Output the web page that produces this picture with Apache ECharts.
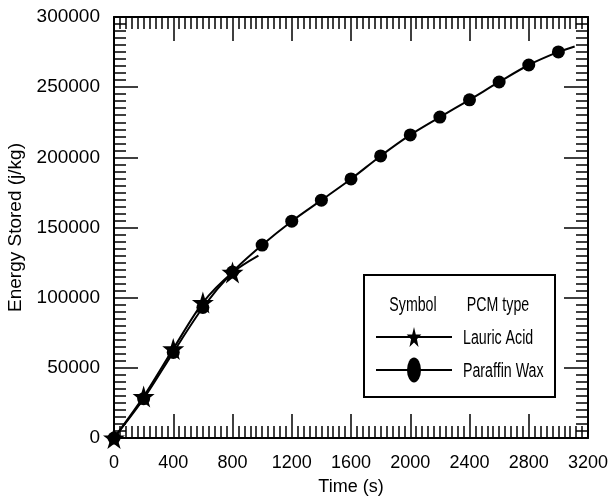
<!DOCTYPE html>
<html>
<head>
<meta charset="utf-8">
<script src="https://cdn.jsdelivr.net/npm/echarts@6/dist/echarts.min.js"></script>
<style>
html, body { margin: 0; padding: 0; background: #fff; }
#main { width: 611px; height: 497px; }
</style>
</head>
<body>
<div id="main"></div>
<script>
var myChart = echarts.init(document.getElementById("main"));

// data
var timesLauric = [0, 200, 400, 600, 800];
var lauricAcid = [0, 29500, 63500, 96500, 118000];
var lauricEnd = [975, 130000];

var timesParaffin = [0, 200, 400, 600, 800, 1000, 1200, 1400, 1600, 1800, 2000, 2200, 2400, 2600, 2800, 3000];
var paraffinWax = [0, 28000, 61000, 93000, 118300, 137500, 154500, 169500, 184600, 201000, 216000, 228700, 241000, 253700, 265800, 275100];
var paraffinEnd = [3110, 279000];

var legendHead = ['Symbol', 'PCM type'];
var legendNames = ['Lauric Acid', 'Paraffin Wax'];

var starPath = 'path://M50,0 L61,35 L98,35 L68,57 L79,91 L50,70 L21,91 L32,57 L2,35 L39,35 Z';
var font = "'Liberation Sans', Arial, sans-serif";

function pairs(xs, ys, end) {
	var out = xs.map(function(x, i) { return [x, ys[i]]; });
	out.push({ value: end, symbol: 'none' });
	return out;
}

// star outline for the legend box
function starPoints(R) {
	var pts = [];
	for (var k = 0; k < 10; k++) {
		var a = -Math.PI / 2 + k * Math.PI / 5;
		var r = k % 2 ? R * 0.4 : R;
		pts.push([r * Math.cos(a), r * Math.sin(a)]);
	}
	return pts;
}

var tickCommon = {
	axisLine: { show: true, onZero: false, lineStyle: { color: '#000', width: 2 } },
	axisTick: { show: true, inside: true, length: 24, lineStyle: { color: '#000', width: 1.5 } },
	minorTick: { show: true, splitNumber: 10, length: 12, lineStyle: { color: '#000', width: 1.5 } },
	splitLine: { show: false }
};

function xAx(extra) {
	return Object.assign({ type: 'value', min: 0, max: 3200, interval: 400 },
		JSON.parse(JSON.stringify(tickCommon)), extra);
}
function yAx(extra) {
	return Object.assign({ type: 'value', min: 0, max: 300000, interval: 50000 },
		JSON.parse(JSON.stringify(tickCommon)), extra);
}

var plain = function(v) { return String(v); };
var txt = { fill: '#000', font: '20px ' + font, textVerticalAlign: 'middle' };
var sq = 0.71; // legend text is narrow in the original

option = {
	backgroundColor: '#fff',
	animation: false,
	grid: { left: 114, right: 23, top: 17, bottom: 59, containLabel: false, outerBoundsMode: 'none' },
	xAxis: [
		xAx({
			position: 'bottom',
			name: 'Time (s)', nameLocation: 'middle', nameGap: 40,
			nameTextStyle: { color: '#000', fontSize: 18, fontFamily: font },
			axisLabel: { color: '#000', fontSize: 18, fontFamily: font, margin: 16, formatter: plain }
		}),
		xAx({ position: 'top', axisLabel: { show: false } })
	],
	yAxis: [
		yAx({
			position: 'left',
			name: 'Energy Stored (j/kg)', nameLocation: 'middle', nameGap: 82,
			nameTextStyle: { color: '#000', fontSize: 19, fontFamily: font },
			axisLabel: { color: '#000', fontSize: 19, fontFamily: font, margin: 14, formatter: plain }
		}),
		yAx({ position: 'right', axisLabel: { show: false } })
	],
	graphic: [
		{ type: 'rect', shape: { x: 364, y: 275, width: 191, height: 122 },
			style: { fill: '#fff', stroke: '#000', lineWidth: 2 }, z: 10 },
		{ type: 'text', x: 413, y: 305, scaleX: sq, z: 11,
			style: Object.assign({ text: legendHead[0], textAlign: 'center' }, txt) },
		{ type: 'text', x: 498, y: 305, scaleX: sq, z: 11,
			style: Object.assign({ text: legendHead[1], textAlign: 'center' }, txt) },
		{ type: 'line', shape: { x1: 376, y1: 337, x2: 452, y2: 337 },
			style: { stroke: '#000', lineWidth: 2 }, z: 11 },
		{ type: 'polygon', x: 414, y: 338, scaleX: 0.7, shape: { points: starPoints(11) },
			style: { fill: '#000' }, z: 12 },
		{ type: 'text', x: 463, y: 338, scaleX: sq, z: 11,
			style: Object.assign({ text: legendNames[0], textAlign: 'left' }, txt) },
		{ type: 'line', shape: { x1: 376, y1: 370, x2: 452, y2: 370 },
			style: { stroke: '#000', lineWidth: 2 }, z: 11 },
		{ type: 'circle', x: 414, y: 370, scaleX: 0.56, shape: { cx: 0, cy: 0, r: 12.5 },
			style: { fill: '#000' }, z: 12 },
		{ type: 'text', x: 463, y: 371, scaleX: sq, z: 11,
			style: Object.assign({ text: legendNames[1], textAlign: 'left' }, txt) }
	],
	series: [{
		name: legendNames[1],
		type: 'line',
		smooth: 0.3,
		data: pairs(timesParaffin, paraffinWax, paraffinEnd),
		symbol: 'circle',
		symbolSize: 13,
		itemStyle: { color: '#000' },
		lineStyle: { color: '#000', width: 2 },
		z: 3
	}, {
		name: legendNames[0],
		type: 'line',
		smooth: 0.3,
		data: pairs(timesLauric, lauricAcid, lauricEnd),
		symbol: starPath,
		symbolSize: 22,
		itemStyle: { color: '#000' },
		lineStyle: { color: '#000', width: 2 },
		z: 4
	}]
};

myChart.setOption(option);
</script>
</body>
</html>
